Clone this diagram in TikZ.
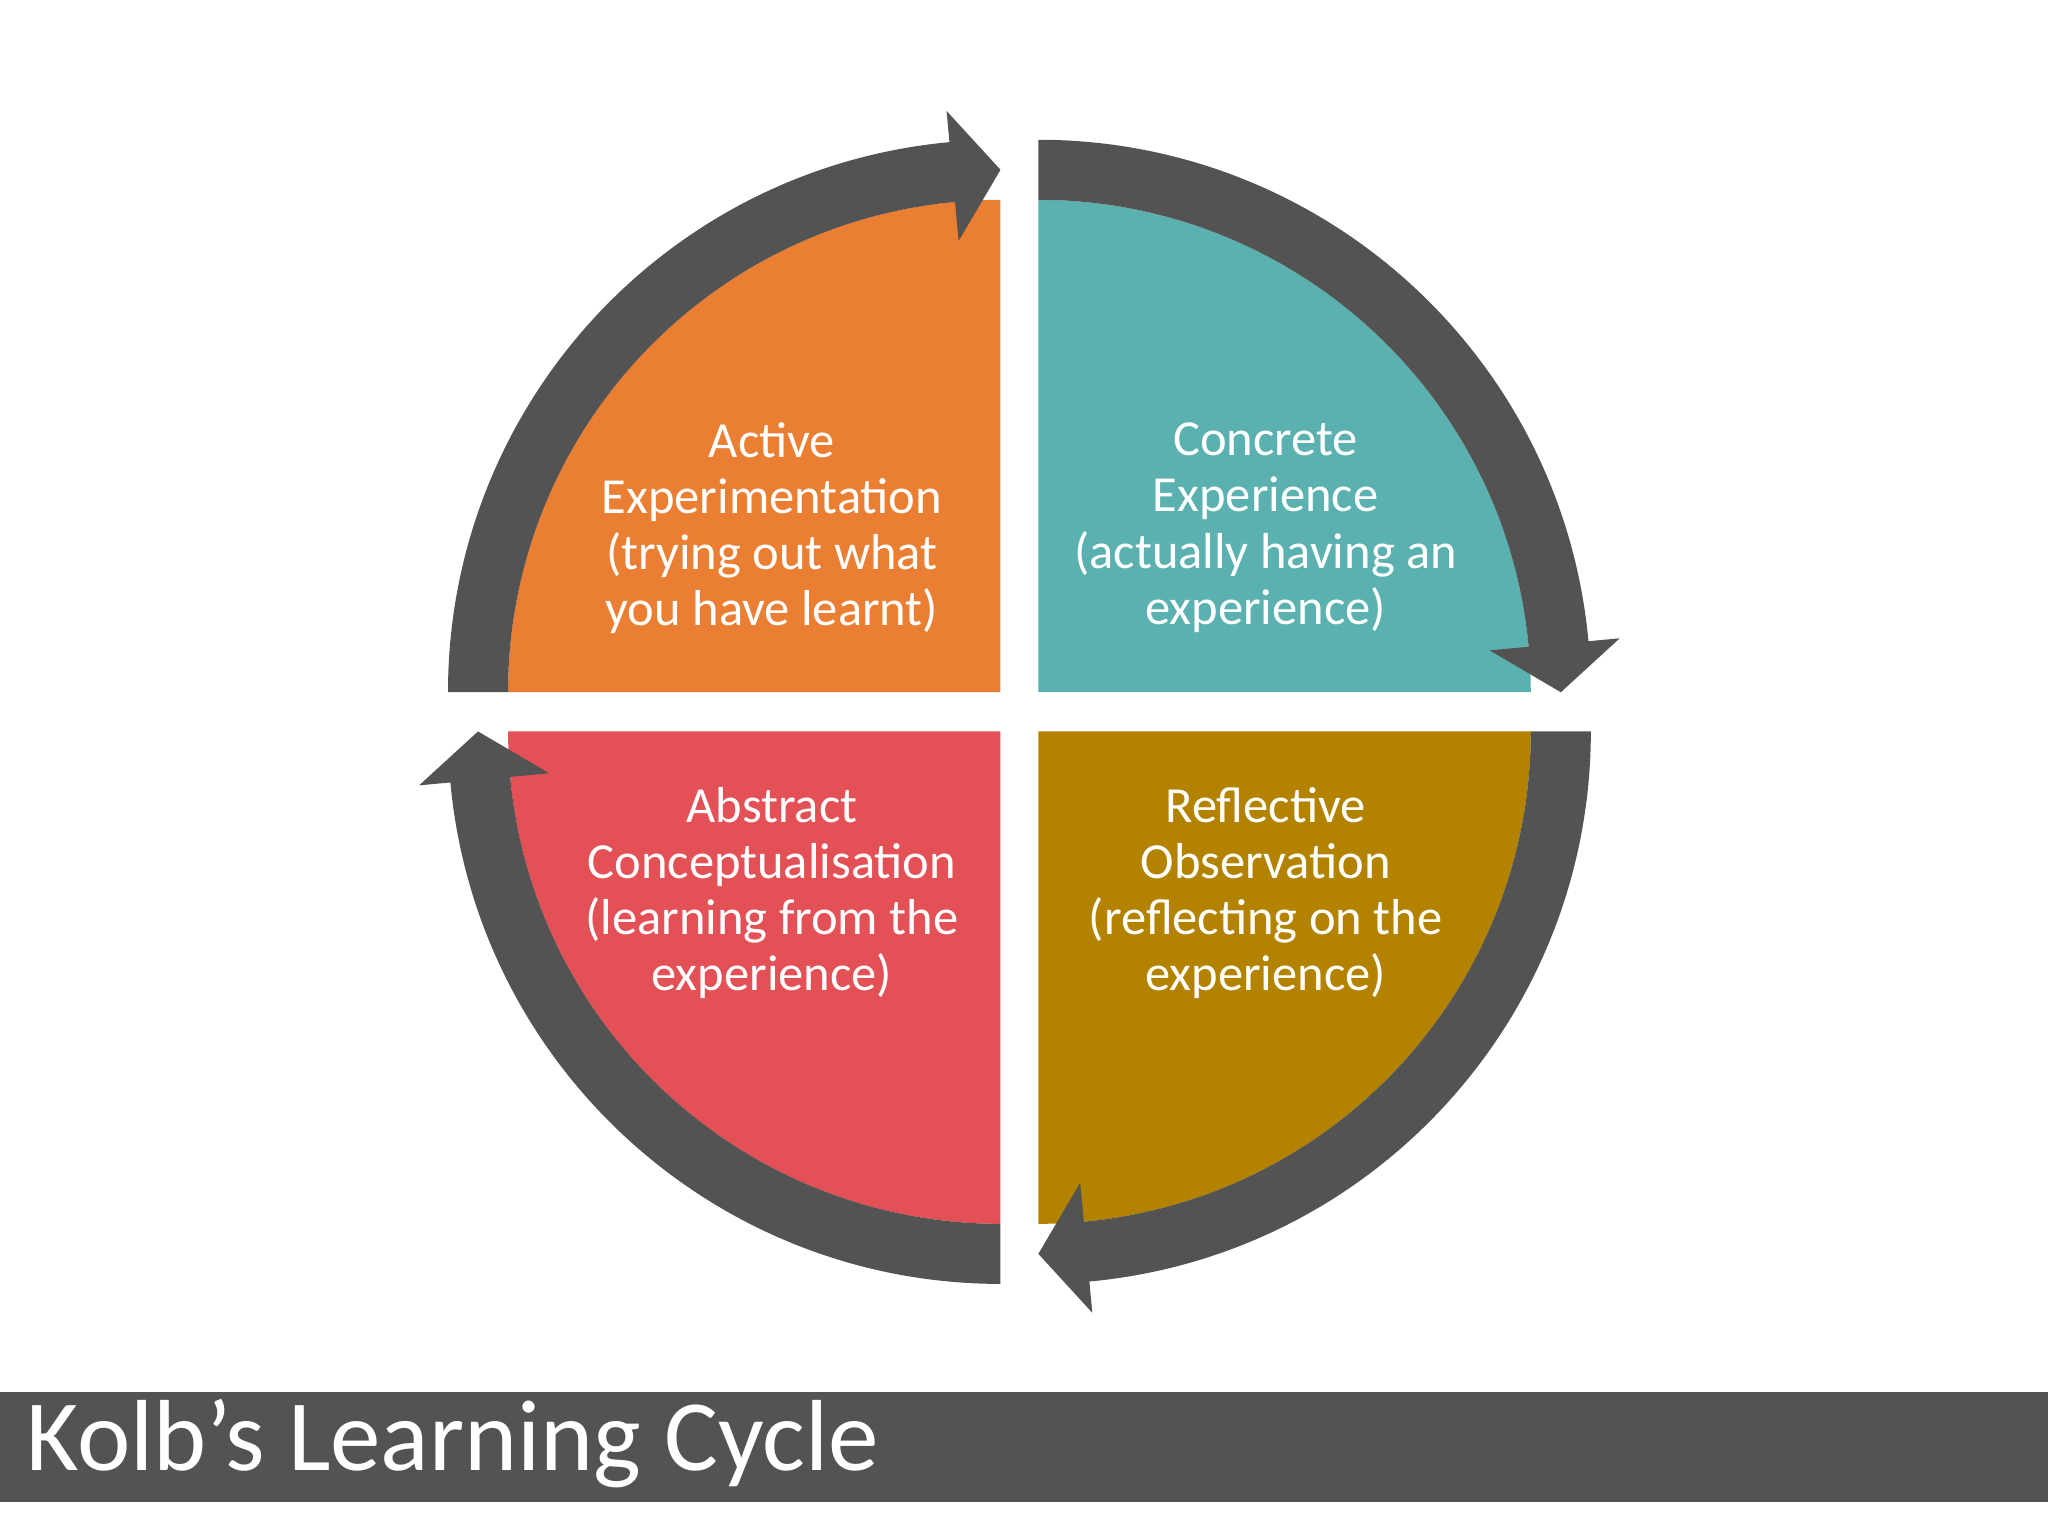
\documentclass[tikz,border=0pt]{standalone}
\usepackage{fontspec}
\setmainfont{Carlito}
\begin{document}
\begin{tikzpicture}[x=0.01cm,y=0.01cm,
  ring/.style={fill=ringgray},
  lbl/.style={text=white,align=center,font=\fontsize{11}{12.2}\selectfont}]
\definecolor{ringgray}{HTML}{535353}
\definecolor{corange}{HTML}{EA7F33}
\definecolor{cteal}{HTML}{5BB1AF}
\definecolor{cred}{HTML}{E35056}
\definecolor{cgold}{HTML}{B38300}
\useasboundingbox (0,0) rectangle (1568,-1176);
\fill[white] (0,0) rectangle (1568,-1176);
% quadrant fills
\coordinate (co) at (766,-530);
\coordinate (ct) at (795,-530);
\coordinate (cg) at (795,-560);
\coordinate (cr) at (766,-560);
\fill[corange] (co) -- ++(180:377) arc[start angle=180,end angle=90,radius=377] -- cycle;
\fill[cteal] (ct) -- ++(90:377) arc[start angle=90,end angle=0,radius=377] -- cycle;
\fill[cgold] (cg) -- ++(0:377) arc[start angle=0,end angle=-90,radius=377] -- cycle;
\fill[cred] (cr) -- ++(-90:377) arc[start angle=-90,end angle=-180,radius=377] -- cycle;
% arrow rings
\foreach \c/\a/\b in {co/180/90, ct/90/0, cg/0/-90, cr/-90/-180}{
  \begin{scope}[shift={(\c)}]
    \pgfmathsetmacro{\ab}{\b+5.3}
    \fill[ring] (\a:423) arc[start angle=\a,end angle=\ab,radius=423]
      -- (\ab:447) -- (\b:400) -- (\ab:347) -- (\ab:377)
      arc[start angle=\ab,end angle=\a,radius=377] -- cycle;
  \end{scope}
}
% labels
\node[lbl] (t1) at (591,-404) {Active\\Experimentation\\(trying out what\\you have learnt)};
\node[lbl] (t2) at (969,-404) {Concrete\\Experience\\(actually having an\\experience)};
\node[lbl] (t3) at (591,-684) {Abstract\\Conceptualisation\\(learning from the\\experience)};
\node[lbl] (t4) at (969,-684) {Reflective\\Observation\\(reflecting on the\\experience)};
% title bar
\fill[ringgray] (0,-1066) rectangle (1568,-1150);
\node[anchor=west,text=white,font=\fontsize{22}{24}\selectfont] (title) at (8,-1105) {Kolb’s Learning Cycle};
\end{tikzpicture}
\end{document}
